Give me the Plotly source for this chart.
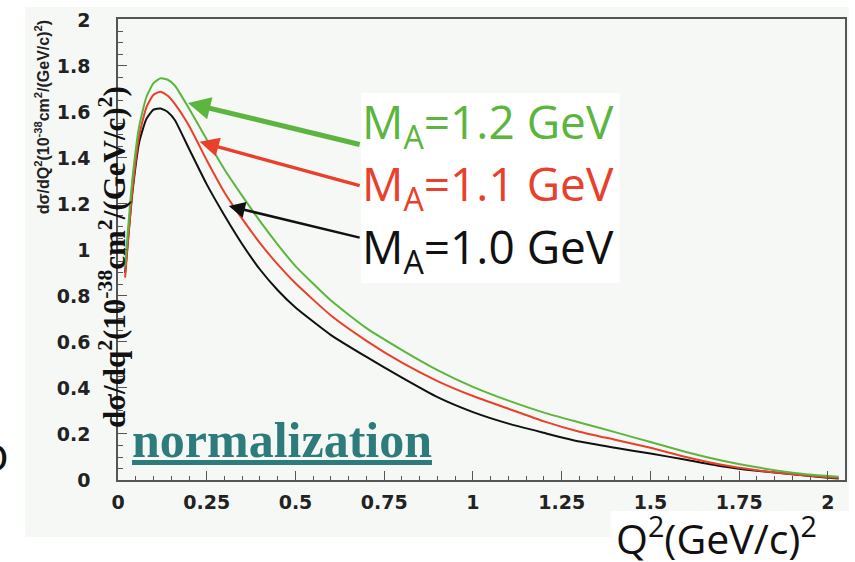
import plotly.graph_objects as go

# Q^2 sampling points (GeV/c)^2
q2 = [0.02, 0.04, 0.06, 0.08, 0.10, 0.12, 0.14, 0.16, 0.20, 0.25, 0.30, 0.35,
      0.40, 0.45, 0.50, 0.60, 0.70, 0.80, 0.90, 1.00, 1.10, 1.20, 1.30, 1.40, 1.50,
      1.60, 1.70, 1.80, 1.90, 2.00, 2.03]

# dsigma/dQ^2 for three axial masses (10^-38 cm^2/(GeV/c)^2)
xs_ma10 = [0.90, 1.24, 1.47, 1.57, 1.61, 1.615, 1.60, 1.565, 1.44, 1.285, 1.15, 1.025,
           0.915, 0.825, 0.75, 0.63, 0.535, 0.445, 0.36, 0.295, 0.245, 0.205, 0.167, 0.14,
           0.115, 0.088, 0.06, 0.04, 0.025, 0.01, 0.007]
xs_ma11 = [0.88, 1.25, 1.50, 1.62, 1.675, 1.688, 1.67, 1.635, 1.54, 1.39, 1.25, 1.135,
           1.03, 0.937, 0.855, 0.715, 0.605, 0.51, 0.43, 0.365, 0.31, 0.255, 0.21, 0.175,
           0.14, 0.10, 0.066, 0.042, 0.025, 0.012, 0.01]
xs_ma12 = [0.93, 1.30, 1.54, 1.665, 1.725, 1.746, 1.74, 1.715, 1.615, 1.48, 1.35, 1.235,
           1.125, 1.023, 0.93, 0.78, 0.66, 0.565, 0.478, 0.405, 0.345, 0.293, 0.25, 0.208,
           0.165, 0.122, 0.085, 0.055, 0.032, 0.017, 0.014]

labels = ["M<sub>A</sub>=1.2 GeV", "M<sub>A</sub>=1.1 GeV", "M<sub>A</sub>=1.0 GeV"]
colors = ["#5cb53e", "#e8402a", "#111111"]

# arrow heads (on curves) and tails (next to labels), data coordinates
arrow_head_x = [0.197, 0.230, 0.312]
arrow_head_y = [1.639, 1.470, 1.191]
arrow_tail_x = [0.685, 0.685, 0.685]
arrow_tail_y = [1.457, 1.278, 1.052]

x_ticks = [0, 0.25, 0.5, 0.75, 1, 1.25, 1.5, 1.75, 2]
x_ticktext = ["0", "0.25", "0.5", "0.75", "1", "1.25", "1.5", "1.75", "2"]
y_ticks = [0, 0.2, 0.4, 0.6, 0.8, 1, 1.2, 1.4, 1.6, 1.8, 2]
y_ticktext = ["0", "0.2", "0.4", "0.6", "0.8", "1", "1.2", "1.4", "1.6", "1.8", "2"]

W, H = 855, 562
L, R, T, B = 118, 8, 19, 82
pw, ph = W - L - R, H - T - B


def px(x):
    return (x - L) / pw


def py(y):
    return (H - B - y) / ph


fig = go.Figure()
for ys, col in zip([xs_ma10, xs_ma11, xs_ma12], [colors[2], colors[1], colors[0]]):
    fig.add_trace(go.Scatter(x=q2, y=ys, mode="lines",
                             line=dict(color=col, width=2, shape="spline", smoothing=0.5),
                             showlegend=False, hoverinfo="skip"))

shapes = [
    # light panel behind the whole plot
    dict(type="rect", xref="paper", yref="paper", x0=px(25), x1=px(851),
         y0=py(537), y1=py(7), fillcolor="#f6f8f6", line_width=0, layer="below"),
    # white box for the x-axis title
    dict(type="rect", xref="paper", yref="paper", x0=px(612), x1=px(860),
         y0=py(570), y1=py(511), fillcolor="white", line_width=0, layer="below"),
    # white box behind the series labels
    dict(type="rect", xref="paper", yref="paper", x0=px(362), x1=px(621),
         y0=py(283), y1=py(93), fillcolor="white", line_width=0, layer="below"),
]

annotations = []
label_y = [124, 186, 249]
for text, col, ly in zip(labels, colors, label_y):
    annotations.append(dict(text=text, xref="paper", yref="paper", x=px(361), y=py(ly),
                            xanchor="left", yanchor="middle", showarrow=False,
                            font=dict(family="Open Sans", size=46, color=col)))

widths = [5, 3.5, 2.5]
sizes = [0.9, 1.1, 1.3]
for hx, hy, tx, ty, col, w, s in zip(arrow_head_x, arrow_head_y, arrow_tail_x,
                                     arrow_tail_y, colors, widths, sizes):
    annotations.append(dict(x=hx, y=hy, ax=tx, ay=ty, xref="x", yref="y",
                            axref="x", ayref="y", text="", showarrow=True,
                            arrowhead=2, arrowsize=s, arrowwidth=w, arrowcolor=col))

annotations += [
    dict(text="<u>normalization</u>", xref="paper", yref="paper", x=px(130), y=py(440),
         xanchor="left", yanchor="middle", showarrow=False,
         font=dict(family="Liberation Serif", size=50, color="#2e7b7b", weight="bold")),
    dict(text="dσ/dq<sup>2</sup>(10<sup>-38</sup>cm<sup>2</sup>/(GeV/c)<sup>2</sup>)",
         xref="paper", yref="paper", x=px(112), y=py(257), textangle=-90,
         xanchor="center", yanchor="middle", showarrow=False,
         font=dict(family="Liberation Serif", size=31, color="#111111", weight="bold")),
    dict(text="dσ/dQ<sup>2</sup>(10<sup>-38</sup>cm<sup>2</sup>/(GeV/c)<sup>2</sup>)",
         xref="paper", yref="paper", x=px(42), y=py(117), textangle=-90,
         xanchor="center", yanchor="middle", showarrow=False,
         font=dict(family="Liberation Sans", size=16, color="#222222", weight="bold")),
    dict(text="Q<sup>2</sup>(GeV/c)<sup>2</sup>", xref="paper", yref="paper",
         x=px(615), y=py(536), xanchor="left", yanchor="middle", showarrow=False,
         font=dict(family="Open Sans", size=41, color="#111111")),
    dict(text="o", xref="paper", yref="paper", x=px(11), y=py(452),
         xanchor="right", yanchor="middle", showarrow=False,
         font=dict(family="Open Sans", size=48, color="#111111")),
]

axis_common = dict(showline=True, linecolor="#555555", linewidth=1.5, mirror=True,
                   ticks="inside", ticklen=9, tickwidth=1.2, tickcolor="#555555",
                   showgrid=False, zeroline=False,
                   tickfont=dict(family="DejaVu Sans", size=19, color="#222222",
                                 weight="bold"))

fig.update_layout(
    width=W, height=H,
    margin=dict(l=L, r=R, t=T, b=B),
    paper_bgcolor="white", plot_bgcolor="rgba(0,0,0,0)",
    shapes=shapes, annotations=annotations,
    xaxis=dict(range=[0, 2.048], tickvals=x_ticks, ticktext=x_ticktext,
               ticklabelstandoff=4,
               minor=dict(ticks="inside", ticklen=4, dtick=0.05, tickcolor="#555555"),
               **axis_common),
    yaxis=dict(range=[0, 2.004], tickvals=y_ticks, ticktext=y_ticktext,
               ticklabelstandoff=22,
               minor=dict(ticks="inside", ticklen=5, dtick=0.05, tickcolor="#555555"),
               **axis_common),
)

fig.write_html("out.html")
